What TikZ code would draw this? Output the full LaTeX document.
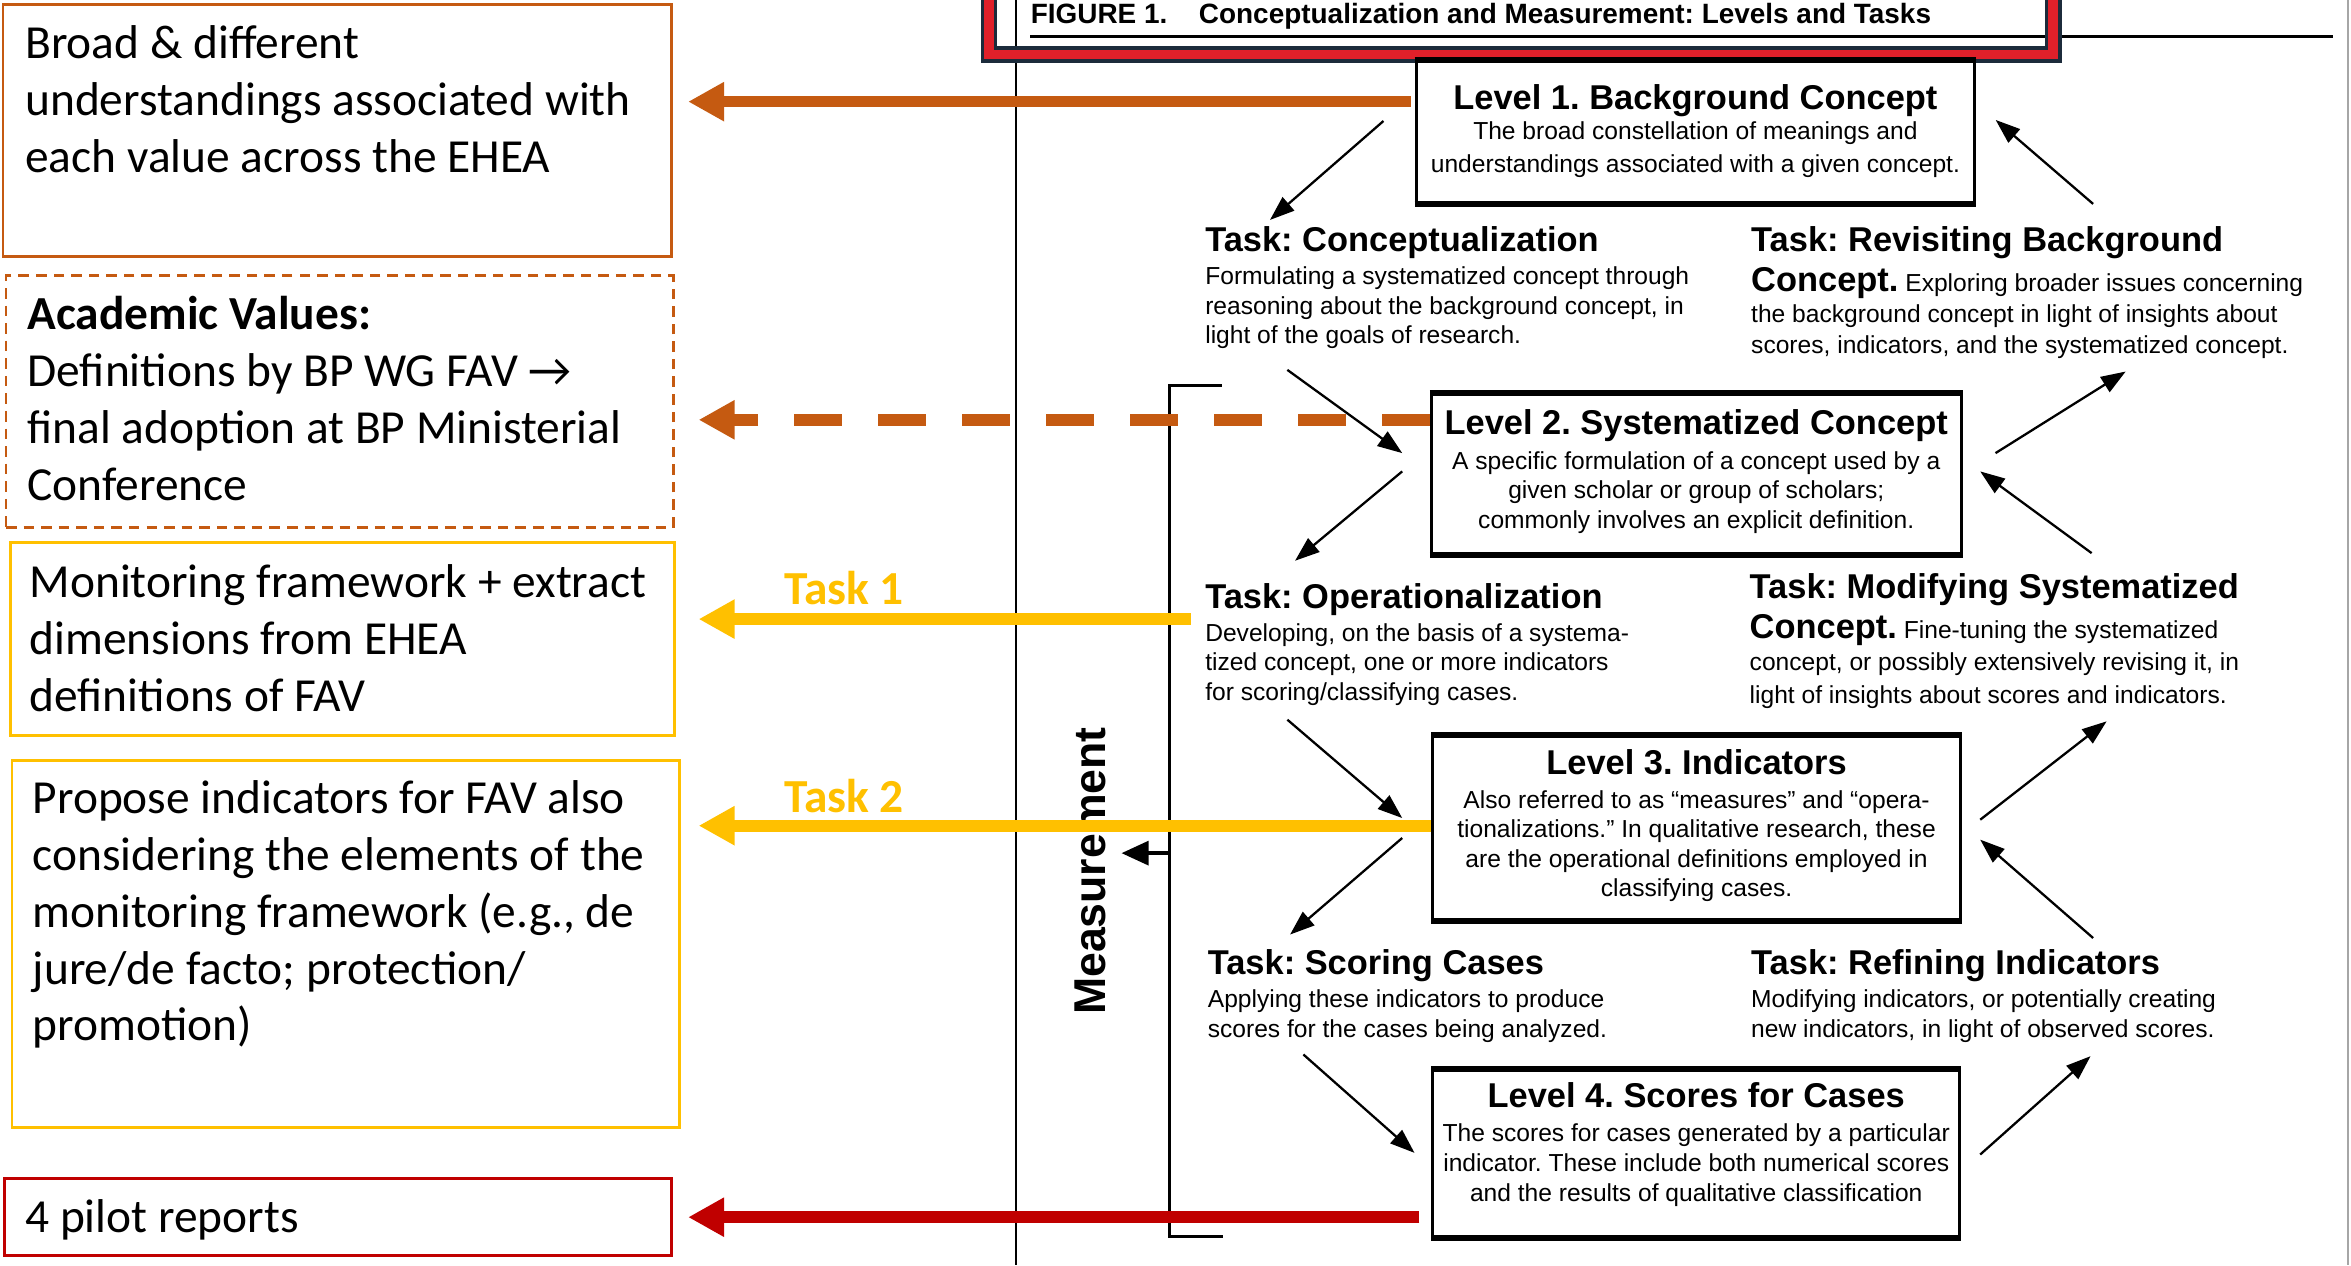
\documentclass[tikz,border=0pt]{standalone}
\usepackage{fontspec}
\setmainfont{Carlito}
\newfontfamily\figf{Liberation Sans}
\usetikzlibrary{arrows.meta,calc}
\definecolor{corange}{HTML}{C55A11}
\definecolor{cyellow}{HTML}{FFC000}
\definecolor{cred}{HTML}{C00000}
\definecolor{hred}{HTML}{E0202A}
\definecolor{hnavy}{HTML}{1C2B3B}
\newcommand\linesL[1]{\vtop{\halign{##\hfil\cr#1\crcr}}}
\newcommand\linesC[1]{\vtop{\halign{\hfil##\hfil\cr#1\crcr}}}
\newcommand\bconcept{{\figf\bfseries\fontsize{9.8}{11}\selectfont Concept.}}
\tikzset{
  ltxt/.style={font=\fontsize{13.5}{16.2}\selectfont, inner sep=0, anchor=base west},
  ttl/.style={font=\figf\bfseries\fontsize{9.8}{11}\selectfont, inner sep=0},
  bod/.style={font=\figf\fontsize{7}{#1}\selectfont, inner sep=0},
  bod/.default=8.5pt,
  lvlbox/.style={draw, line width=0.9pt, inner sep=0},
  lbox/.style={draw, line width=0.8pt, inner sep=0},
  carrow/.style={line width=3.3pt, -{Triangle[length=10.24pt, width=10.5pt]}},
  barrow/.style={line width=0.65pt, -{Triangle[length=7pt, width=5pt]}},
}
\begin{document}
\frenchspacing
\begin{tikzpicture}[x=0.015cm, y=-0.015cm]
\useasboundingbox (0,0) rectangle (1568,844);
% scan frame lines
\draw[line width=0.6pt] (677.5,0) -- (677.5,844);
\draw[black!35, line width=0.5pt] (1566,0) -- (1566,844);
\draw[line width=0.9pt] (687,24.4) -- (1556,24.4);
% header
\node[font=\figf\bfseries\fontsize{7.95}{9.6}\selectfont, anchor=base west, inner sep=0] (hdr) at (687,16) {FIGURE 1.\hspace{9pt}Conceptualization and Measurement: Levels and Tasks};
\draw[hnavy, line width=4.7pt] (659.5,-40) rectangle (1369.5,36.3);
\draw[hred, line width=2.8pt] (659.5,-40) rectangle (1369.5,36.3);

% level boxes
\node[lvlbox, minimum width=5.5875cm, minimum height=1.41cm] (L1) at (1130.75,88) {};
\node[lvlbox, minimum width=5.30cm, minimum height=1.59cm] (L2) at (1131.3,316) {};
\node[lvlbox, minimum width=5.28cm, minimum height=1.83cm] (L3) at (1131.5,552) {};
\node[lvlbox, minimum width=5.27cm, minimum height=1.665cm] (L4) at (1131.3,769.5) {};
\foreach \n in {L1,L2,L3,L4}{
  \draw[line width=1.6pt] (\n.north west) -- (\n.north east);
  \draw[line width=1.6pt] (\n.south west) -- (\n.south east);
}
\node[ttl, anchor=base] (L1t) at (1130.75,73) {Level 1. Background Concept};
\node[bod=9.3pt, anchor=base] (L1b) at (1130.75,93.3) {\linesC{The broad constellation of meanings and\cr understandings associated with a given concept.}};
\node[ttl, anchor=base] (L2t) at (1131.3,290) {Level 2. Systematized Concept};
\node[bod=8.3pt, anchor=base] (L2b) at (1131.3,313.3) {\linesC{A specific formulation of a concept used by a\cr given scholar or group of scholars;\cr commonly involves an explicit definition.}};
\node[ttl, anchor=base] (L3t) at (1131.5,516.7) {Level 3. Indicators};
\node[bod=8.4pt, anchor=base] (L3b) at (1131.5,538.9) {\linesC{Also referred to as “measures” and “opera-\cr tionalizations.” In qualitative research, these\cr are the operational definitions employed in\cr classifying cases.}};
\node[ttl, anchor=base] (L4t) at (1131.3,738.9) {Level 4. Scores for Cases};
\node[bod=8.55pt, anchor=base] (L4b) at (1131.3,761.1) {\linesC{The scores for cases generated by a particular\cr indicator. These include both numerical scores\cr and the results of qualitative classification}};

% task texts
\node[ttl, anchor=base west] (TCh) at (803.4,167.8) {Task: Conceptualization};
\node[bod=8.4pt, anchor=base west] (TCb) at (803.4,190) {\linesL{Formulating a systematized concept through\cr reasoning about the background concept, in\cr light of the goals of research.}};
\node[ttl, anchor=base west] (TRh) at (1167.5,167.8) {Task: Revisiting Background};
\node[bod=8.8pt, anchor=base west] (TRb) at (1167.5,194.4) {\linesL{\bconcept{} Exploring broader issues concerning\cr the background concept in light of insights about\cr scores, indicators, and the systematized concept.}};
\node[ttl, anchor=base west] (TOh) at (803.4,405.6) {Task: Operationalization};
\node[bod=8.4pt, anchor=base west] (TOb) at (803.4,427.8) {\linesL{Developing, on the basis of a systema-\cr tized concept, one or more indicators\cr for scoring/classifying cases.}};
\node[ttl, anchor=base west] (TMh) at (1166.5,398.9) {Task: Modifying Systematized};
\node[bod=9.3pt, anchor=base west] (TMb) at (1166.5,425.6) {\linesL{\bconcept{} Fine-tuning the systematized\cr concept, or possibly extensively revising it, in\cr light of insights about scores and indicators.}};
\node[ttl, anchor=base west] (TSh) at (805.1,650) {Task: Scoring Cases};
\node[bod=8.55pt, anchor=base west] (TSb) at (805.1,672.2) {\linesL{Applying these indicators to produce\cr scores for the cases being analyzed.}};
\node[ttl, anchor=base west] (TIh) at (1167.5,650) {Task: Refining Indicators};
\node[bod=8.55pt, anchor=base west] (TIb) at (1167.5,672.2) {\linesL{Modifying indicators, or potentially creating\cr new indicators, in light of observed scores.}};

% black arrows
\coordinate (a1s) at (922.7,80.7);  \coordinate (a1e) at (847,146.7);
\coordinate (a2s) at (1396,136);    \coordinate (a2e) at (1331,80);
\coordinate (a3s) at (858.6,246.7); \coordinate (a3e) at (935.2,302.2);
\coordinate (a4s) at (1330.9,302.2);\coordinate (a4e) at (1417.7,247.8);
\coordinate (a5s) at (935.2,314.4); \coordinate (a5e) at (863.7,374);
\coordinate (a6s) at (1395,368.9);  \coordinate (a6e) at (1320.7,314.4);
\coordinate (a7s) at (858.6,480);   \coordinate (a7e) at (935.2,545.6);
\coordinate (a8s) at (1320.7,546.7);\coordinate (a8e) at (1405,481.1);
\coordinate (a9s) at (935.2,558.9); \coordinate (a9e) at (860.4,623.3);
\coordinate (a10s) at (1396,625.6); \coordinate (a10e) at (1320.7,560);
\coordinate (a11s) at (869.3,703.3);\coordinate (a11e) at (943.4,768.9);
\coordinate (a12s) at (1320.7,770); \coordinate (a12e) at (1394.3,704.4);
\foreach \i in {1,...,12}{\draw[barrow] (a\i s) -- (a\i e);}

% measurement bracket
\draw[line width=0.95pt] (815,257) -- (780,257) -- (780,824.5) -- (816,824.5);
\coordinate (mb) at (780,569);
\coordinate (mt) at (748,569);
\draw[line width=1pt, -{Triangle[length=7.7pt, width=6.8pt]}] (mb) -- (mt);
\node[font=\figf\bfseries\fontsize{12.7}{14}\selectfont, rotate=90, inner sep=0] (meas) at (727,581) {Measurement};

% left boxes
\node[lbox, draw=corange, minimum width=6.69cm, minimum height=2.52cm] (B1) at (225,87) {};
\node[lbox, draw=corange, dash pattern=on 3pt off 2pt, minimum width=6.675cm, minimum height=2.52cm] (B2) at (226.5,268) {};
\node[lbox, draw=cyellow, minimum width=6.645cm, minimum height=1.9275cm] (B3) at (228.5,426.25) {};
\node[lbox, draw=cyellow, minimum width=6.675cm, minimum height=3.675cm] (B4) at (230.5,629.5) {};
\node[lbox, draw=cred, minimum width=6.675cm, minimum height=0.7725cm] (B5) at (225.5,811.75) {};

\node[ltxt] (B1t) at (16.4,39) {\linesL{Broad \& different\cr understandings associated with\cr each value across the EHEA}};
\node[ltxt] (B2t) at (17.9,220) {\linesL{\textbf{Academic Values:}\cr Definitions by BP WG FAV →\cr final adoption at BP Ministerial\cr Conference}};
\node[ltxt] (B3t) at (19.3,398.6) {\linesL{Monitoring framework + extract\cr dimensions from EHEA\cr definitions of FAV}};
\node[ltxt] (B4t) at (21.4,542.4) {\linesL{Propose indicators for FAV also\cr considering the elements of the\cr monitoring framework (e.g., de\cr jure/de facto; protection/\cr promotion)}};
\node[ltxt] (B5t) at (16.4,822) {4 pilot reports};

% coloured arrows
\draw[carrow, corange] ($(L1.west |- 0,67.8)+(-2.5,0)$) -- ($(B1.east |- 0,67.8)+(10,0)$);
\draw[carrow, corange, dash pattern=on 13.66pt off 10.24pt] (L2.west |- 0,280) -- ($(B2.east |- 0,280)+(16,0)$);
\draw[carrow, cyellow] ($(TOh.west |- 0,412.9)+(-9.4,0)$) -- ($(B3.east |- 0,412.9)+(15,0)$);
\draw[carrow, cyellow] (L3.west |- 0,550.7) -- ($(B4.east |- 0,550.7)+(12,0)$);
\draw[carrow, cred] ($(L4.west |- 0,811.8)+(-8,0)$) -- ($(B5.east |- 0,811.8)+(10,0)$);
\node[ltxt, anchor=base, font=\fontsize{13.5}{16.2}\selectfont\bfseries, text=cyellow] (k1) at (563,403.3) {Task 1};
\node[ltxt, anchor=base, font=\fontsize{13.5}{16.2}\selectfont\bfseries, text=cyellow] (k2) at (563,542.2) {Task 2};
\end{tikzpicture}
\end{document}
